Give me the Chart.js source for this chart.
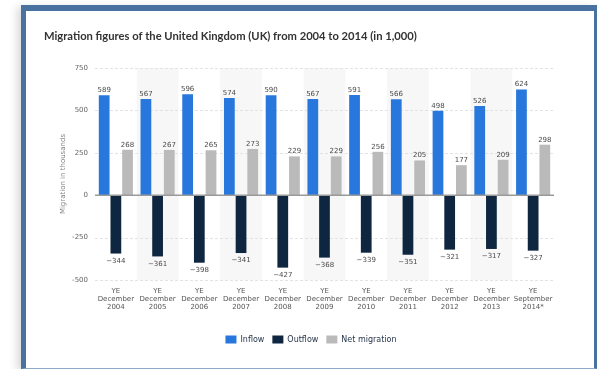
<!DOCTYPE html>
<html>
<head>
<meta charset="utf-8">
<script src="https://cdn.jsdelivr.net/npm/chart.js@4/dist/chart.umd.min.js"></script>
<style>
  html, body { margin: 0; padding: 0; background: #ffffff; }
  body { width: 597px; height: 369px; position: relative; overflow: hidden; }
  #frame {
    position: absolute; left: 21px; top: 5px; width: 576px; height: 364px;
    box-sizing: border-box; background: #ffffff;
    border-left: 5px solid #4a72a0; border-top: 6px solid #4a72a0;
    border-right: 3px solid #4a72a0; border-bottom: 1px solid #8eabcb;
    box-shadow: -4px 2px 8px rgba(0,0,0,0.15);
  }
  #c { position: absolute; left: 0; top: 0; }
</style>
</head>
<body>
<div id="frame"></div>
<canvas id="c" width="597" height="369"></canvas>
<script>
const categories = [
  ["YE", "December", "2004"], ["YE", "December", "2005"], ["YE", "December", "2006"],
  ["YE", "December", "2007"], ["YE", "December", "2008"], ["YE", "December", "2009"],
  ["YE", "December", "2010"], ["YE", "December", "2011"], ["YE", "December", "2012"],
  ["YE", "December", "2013"], ["YE", "September", "2014*"]
];
const inflow = [589, 567, 596, 574, 590, 567, 591, 566, 498, 526, 624];
const outflow = [-344, -361, -398, -341, -427, -368, -339, -351, -321, -317, -327];
const netMigration = [268, 267, 265, 273, 229, 229, 256, 205, 177, 209, 298];
const yTicks = [-500, -250, 0, 250, 500, 750];

const FONT = "'DejaVu Sans', sans-serif";

const bandsPlugin = {
  id: 'bands',
  beforeDatasetsDraw(chart) {
    const {ctx, chartArea, scales} = chart;
    const x = scales.x, y = scales.y;
    const w = (chartArea.right - chartArea.left) / categories.length;
    ctx.save();
    ctx.fillStyle = '#f7f7f7';
    for (let i = 1; i < categories.length; i += 2) {
      const cx = x.getPixelForValue(i);
      ctx.fillRect(cx - w / 2, chartArea.top, w, chartArea.bottom - chartArea.top);
    }
    ctx.strokeStyle = '#e3e3e3';
    ctx.lineWidth = 1;
    ctx.setLineDash([3, 2]);
    yTicks.forEach(v => {
      if (v === 0) return;
      const py = Math.round(y.getPixelForValue(v)) + 0.5;
      ctx.beginPath();
      ctx.moveTo(chartArea.left, py);
      ctx.lineTo(chartArea.right, py);
      ctx.stroke();
    });
    ctx.restore();
  },
  afterDatasetsDraw(chart) {
    const {ctx, chartArea, scales} = chart;
    const py = scales.y.getPixelForValue(0);
    ctx.save();
    ctx.strokeStyle = '#9a9a9a';
    ctx.lineWidth = 1.6;
    ctx.beginPath();
    ctx.moveTo(chartArea.left, py);
    ctx.lineTo(chartArea.right, py);
    ctx.stroke();
    ctx.font = "7px " + FONT;
    ctx.fillStyle = '#4a4a4a';
    ctx.textAlign = 'center';
    chart.data.datasets.forEach((ds, di) => {
      const meta = chart.getDatasetMeta(di);
      meta.data.forEach((bar, i) => {
        const v = ds.data[i];
        const txt = v < 0 ? '\u2212' + Math.abs(v) : String(v);
        if (v >= 0) {
          ctx.textBaseline = 'alphabetic';
          ctx.fillText(txt, bar.x, bar.y - 3);
        } else {
          ctx.textBaseline = 'top';
          ctx.fillText(txt, bar.x, bar.y + 4);
        }
      });
    });
    ctx.restore();
  },
  afterLayout(chart) {
    const lg = chart.legend;
    if (lg) { lg.left += 12; lg.right += 12; }
  }
};

new Chart(document.getElementById('c'), {
  type: 'bar',
  data: {
    labels: categories,
    datasets: [
      { label: 'Inflow', data: inflow, backgroundColor: '#2877dd' },
      { label: 'Outflow', data: outflow, backgroundColor: '#0f2640' },
      { label: 'Net migration', data: netMigration, backgroundColor: '#bababa' }
    ]
  },
  options: {
    responsive: false,
    animation: false,
    devicePixelRatio: 1,
    categoryPercentage: 0.84,
    barPercentage: 0.92,
    layout: { padding: { left: 44, right: 43, top: 0, bottom: 15.5 } },
    plugins: {
      title: {
        display: true,
        text: 'Migration figures of the United Kingdom (UK) from 2004 to 2014 (in 1,000)',
        align: 'start',
        color: '#333333',
        font: { family: "Lato, sans-serif", size: 11.2, weight: 'bold', lineHeight: 1.2 },
        padding: { top: 29.8, bottom: 24.8 }
      },
      legend: {
        position: 'bottom',
        labels: {
          font: { family: FONT, size: 8 },
          color: '#1f2f45',
          boxWidth: 11,
          boxHeight: 8,
          padding: 8
        }
      },
      tooltip: { enabled: false }
    },
    scales: {
      x: {
        grid: { display: false, drawTicks: false },
        border: { display: false },
        ticks: {
          autoSkip: false, maxRotation: 0, minRotation: 0,
          color: '#555555', padding: 7,
          font: { family: FONT, size: 7, lineHeight: 1.15 }
        },
        afterFit(scale) { scale.height = 47.5; }
      },
      y: {
        min: -500, max: 750,
        grid: { display: false, drawTicks: false },
        border: { display: false },
        afterBuildTicks(scale) { scale.ticks = yTicks.map(v => ({ value: v })); },
        ticks: {
          color: '#666666', padding: 7,
          font: { family: FONT, size: 7 },
          callback: v => String(v)
        },
        title: {
          display: true,
          text: 'Migration in thousands',
          color: '#808080',
          font: { family: FONT, size: 7 },
          padding: { top: 15, bottom: 0 }
        },
        afterFit(scale) { scale.width = 51; }
      }
    }
  },
  plugins: [bandsPlugin]
});
</script>
</body>
</html>
